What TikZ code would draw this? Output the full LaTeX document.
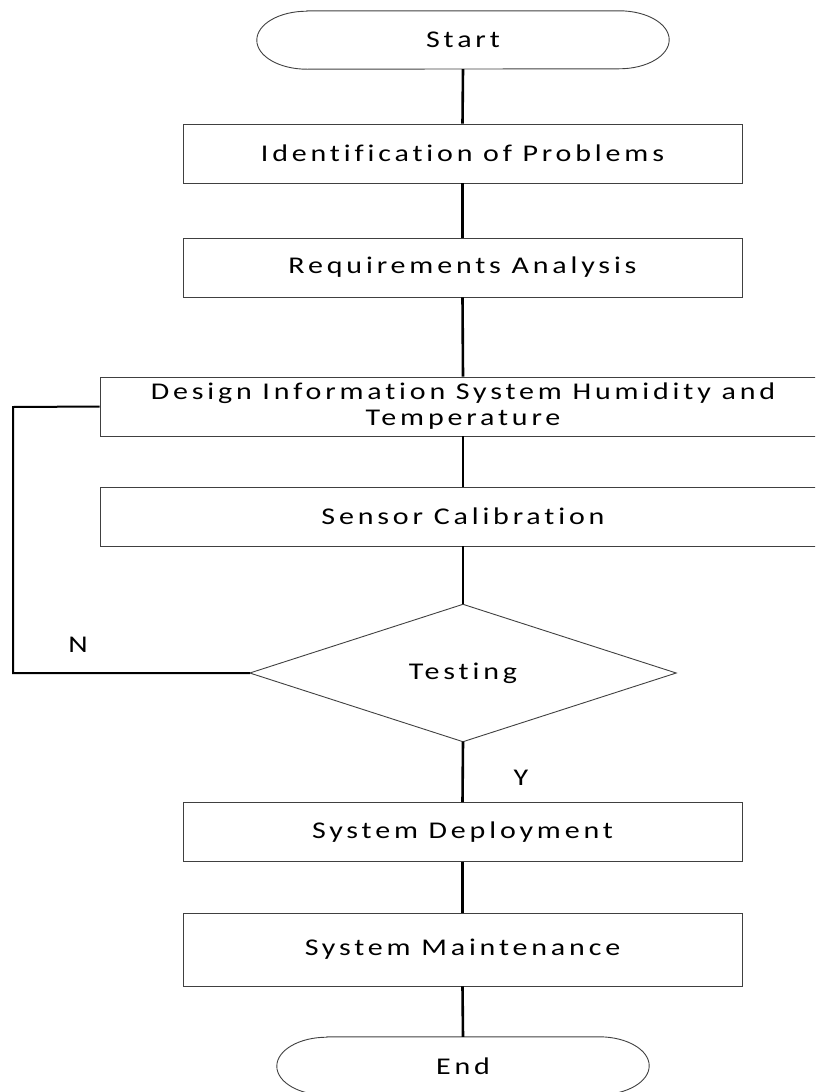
\documentclass[tikz,border=0pt]{standalone}
\usepackage{fontspec}
\setmainfont{Carlito}[FakeStretch=1.25, LetterSpace=16, Ligatures=NoCommon]
\usetikzlibrary{calc}
\tikzset{
  box/.style={draw=black!75, line width=0.9pt, minimum width=559pt, minimum height=59pt, inner sep=0pt, align=center, font=\fontsize{24}{26}\selectfont},
  widebox/.style={box, minimum width=726pt},
  txt/.style={inner sep=0pt, align=center, font=\fontsize{24}{26}\selectfont},
  conn/.style={draw=black, line width=2.6pt},
  outline/.style={draw=black!75, line width=0.9pt},
}
\begin{document}
\begin{tikzpicture}[x=1pt,y=1pt]
\clip (0,0) rectangle (815,-1092);
\useasboundingbox (0,0) rectangle (815,-1092);
% terminators
\node[txt, minimum width=412pt, minimum height=58pt] (start) at (463,-40) {Start};
\node[txt, minimum width=372pt, minimum height=58pt] (end) at (463,-1066) {End};
\foreach \n/\r in {start/50, end/50}{
  \draw[outline] ($(\n.north west)+(\r,0)$) -- ($(\n.north east)-(\r,0)$)
     arc[start angle=90, end angle=-90, x radius=\r, y radius=29]
     -- ($(\n.south west)+(\r,0)$)
     arc[start angle=270, end angle=90, x radius=\r, y radius=29] -- cycle;
}
% process boxes
\node[box] (b1) at (462.5,-153.5) {Identification of Problems};
\node[box] (b2) at (462.5,-267.5) {Requirements Analysis};
\node[widebox] (b3) at (463,-406.5) {Design Information System Humidity and\\Temperature};
\node[widebox] (b4) at (463,-516.5) {Sensor Calibration};
% decision
\node[txt, minimum width=426pt, minimum height=137pt] (test) at (463,-673) {Testing};
\draw[outline] (test.north) -- (test.east) -- (test.south) -- (test.west) -- cycle;
\node[box] (b5) at (462.5,-832) {System Deployment};
\node[box, minimum height=73pt] (b6) at (462.5,-949.5) {System Maintenance};
% labels
\node[txt] (lN) at (78,-645) {N};
\node[txt] (lY) at (521,-778) {Y};
% connectors
\draw[conn] (start.south) -- (b1.north);
\draw[conn] (b1.south) -- (b2.north);
\draw[conn] (b2.south) -- (b3.north);
\draw[conn] (b3.south) -- (b4.north);
\draw[conn] (b4.south) -- (test.north);
\draw[conn] (test.south) -- (b5.north);
\draw[conn] (b5.south) -- (b6.north);
\draw[conn] (b6.south) -- (end.north);
\coordinate (loopA) at (13,-673);
\coordinate (loopB) at (13,-407);
\draw[conn, line width=2pt] (test.west) -- (loopA) -- (loopB) -- (b3.west);
\end{tikzpicture}
\end{document}
